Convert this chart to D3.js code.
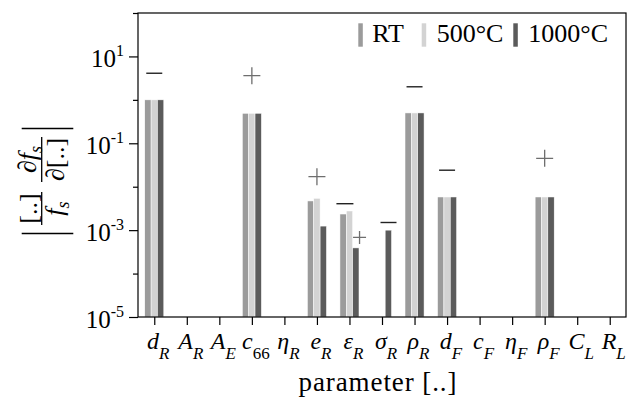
<!DOCTYPE html>
<html>
<head>
<meta charset="utf-8">
<script src="https://cdn.jsdelivr.net/npm/d3@7"></script>
</head>
<body style="margin:0">
<svg id="chart" width="643" height="397"></svg>
<script>
// Parameter names (italic symbol + subscript)
const paramSymbols = ["d", "A", "A", "c", "η", "e", "ε", "σ", "ρ", "d", "c", "η", "ρ", "C", "R"];
const paramSubs    = ["R", "R", "E", "66", "R", "R", "R", "R", "R", "F", "F", "F", "F", "L", "L"];

// Normalised sensitivity |([.]/f_s) ∂f_s/∂[.]| per temperature (0 = not drawn)
const sensRT    = [1.0, 0, 0, 0.49, 0, 4.7e-3, 2.35e-3, 0,      0.50, 5.8e-3, 0, 0, 5.8e-3, 0, 0];
const sens500   = [1.0, 0, 0, 0.49, 0, 5.4e-3, 2.76e-3, 0,      0.50, 5.8e-3, 0, 0, 5.8e-3, 0, 0];
const sens1000  = [1.0, 0, 0, 0.49, 0, 1.24e-3, 3.9e-4, 1.0e-3, 0.50, 5.8e-3, 0, 0, 5.8e-3, 0, 0];

const seriesNames  = ["RT", "500°C", "1000°C"];
const seriesColors = ["#9b9b9b", "#d3d3d3", "#5b5b5b"];

// Sign of each sensitivity: parameter index, x shift (in category units), height, symbol, size
const signIndex  = [0,   3,   5,      6,       6,      7,      8,   9,      12];
const signShift  = [0,   0,   0,      -0.14,   0.31,   0.2,    0,   0,      0];
const signValue  = [4.1, 3.6, 1.7e-2, 4.06e-3, 6.8e-4, 1.5e-3, 2.0, 2.4e-2, 4.5e-2];
const signSymbol = ["-", "+", "+",    "-",     "+",    "-",    "-", "-",    "+"];
const signSize   = [16,  17,  17,     17,      13,     16,     16,  16,     17];

// y-axis decades; labelled ones get long ticks
const majorDecades = [1e1, 1e-1, 1e-3, 1e-5];
const majorExps    = ["1", "-1", "-3", "-5"];
const minorDecades = [1e2, 1e0, 1e-2, 1e-4];

const FONT = "'Liberation Serif'";
const svg = d3.select("#chart");
const L = 138, R = 626, T = 13, B = 317;

const x = d3.scaleLinear().domain([-0.5, paramSymbols.length - 0.5]).range([L, R]);
const y = d3.scaleLog().domain([1e-5, 1e2]).range([B, T]);

const addText = (parent, size) => parent.append("text")
  .style("font-family", FONT).attr("font-size", size);

// Bars
const barUnits = 0.195;
const bw = x(barUnits) - x(0);
[sensRT, sens500, sens1000].forEach((vals, k) => {
  const off = (k - 1) * barUnits;
  svg.append("g")
    .selectAll("rect")
    .data(vals.map((v, i) => ({ v, i })).filter(d => d.v > 0))
    .join("rect")
    .attr("x", d => x(d.i + off) - bw / 2)
    .attr("width", bw)
    .attr("y", d => y(d.v))
    .attr("height", d => y(1e-5) - y(d.v))
    .attr("fill", seriesColors[k])
    .attr("stroke", "#fff")
    .attr("stroke-width", 0.5);
});

// Sign markers
const signs = svg.append("g");
signIndex.forEach((ci, j) => {
  const cx = x(ci + signShift[j]);
  const cy = y(signValue[j]);
  const h = signSize[j] / 2;
  if (signSymbol[j] === "-") {
    signs.append("line")
      .attr("x1", cx - h).attr("x2", cx + h)
      .attr("y1", cy).attr("y2", cy)
      .attr("stroke", "#222").attr("stroke-width", 1.4);
  } else {
    signs.append("path")
      .attr("d", `M${cx - h},${cy}H${cx + h}M${cx},${cy - h}V${cy + h}`)
      .attr("stroke", "#6e6e6e").attr("stroke-width", 1.3).attr("fill", "none");
  }
});

// Axes
const xAxis = svg.append("g")
  .attr("transform", `translate(0,${B})`)
  .call(d3.axisBottom(x).tickValues(d3.range(paramSymbols.length)).tickSize(8).tickFormat(""));
xAxis.select(".domain").remove();
xAxis.selectAll("line").attr("stroke", "#000").attr("stroke-width", 1.2);

const yMajor = svg.append("g")
  .attr("transform", `translate(${L},0)`)
  .call(d3.axisLeft(y).tickValues(majorDecades).tickSize(9).tickFormat(""));
yMajor.select(".domain").remove();
yMajor.selectAll("line").attr("stroke", "#000").attr("stroke-width", 1.2);

const yMinor = svg.append("g")
  .attr("transform", `translate(${L},0)`)
  .call(d3.axisLeft(y).tickValues(minorDecades).tickSize(5).tickFormat(""));
yMinor.select(".domain").remove();
yMinor.selectAll("line").attr("stroke", "#000").attr("stroke-width", 1.2);

// Frame
svg.append("rect")
  .attr("x", L).attr("y", T).attr("width", R - L).attr("height", B - T)
  .attr("fill", "none").attr("stroke", "#000").attr("stroke-width", 1.2);

// y tick labels 10^n
majorDecades.forEach((v, i) => {
  const t = addText(svg, 25)
    .attr("x", 124).attr("y", y(v) + 11)
    .attr("text-anchor", "end");
  t.append("tspan").text("10");
  t.append("tspan").attr("dy", -11.5).attr("font-size", 16).text(majorExps[i]);
});

// x tick labels
paramSymbols.forEach((s, i) => {
  const t = addText(svg, 24)
    .attr("x", x(i) + 4).attr("y", 349)
    .attr("text-anchor", "middle");
  t.append("tspan").attr("font-style", "italic").text(s);
  t.append("tspan").attr("dy", 10).attr("font-size", 17)
    .attr("font-style", /^\d+$/.test(paramSubs[i]) ? "normal" : "italic")
    .text(paramSubs[i]);
});

// x axis title
addText(svg, 27)
  .attr("x", 377.5).attr("y", 391)
  .attr("text-anchor", "middle")
  .attr("textLength", 158).attr("lengthAdjust", "spacing")
  .text("parameter [..]");

// y axis title: | [..]/f_s · ∂f_s/∂[..] |
const yl = svg.append("g").attr("transform", "translate(41.7,181) rotate(-90)");
const stroke = (x1, y1, x2, y2, w) => yl.append("line")
  .attr("x1", x1).attr("y1", y1).attr("x2", x2).attr("y2", y2)
  .attr("stroke", "#000").attr("stroke-width", w);
stroke(-52.5, -20, -52.5, 31.6, 1.5);
stroke(52.5, -20, 52.5, 31.6, 1.5);
stroke(-44, 0, -11, 0, 1.3);
stroke(-1, 0, 44, 0, 1.3);
const frac = (u, v, parts) => {
  const t = addText(yl, 26).attr("x", u).attr("y", v).attr("text-anchor", "middle");
  parts.forEach(p => {
    const s = t.append("tspan").text(p.t);
    if (p.it) s.attr("font-style", "italic");
    if (p.sub) s.attr("font-size", 18).attr("dy", 6);
  });
};
frac(-27.5, -5, [{ t: "[..]" }]);
frac(-27.5, 21, [{ t: "f", it: true }, { t: "s", it: true, sub: true }]);
frac(21.5, -6, [{ t: "∂", it: true }, { t: "f", it: true }, { t: "s", it: true, sub: true }]);
frac(21.5, 22, [{ t: "∂", it: true }, { t: "[..]" }]);

// Legend
const legendPatchX = [358.3, 421.7, 513.3];
const legendTextX  = [372.3, 436.7, 528.3];
seriesNames.forEach((name, k) => {
  svg.append("rect")
    .attr("x", legendPatchX[k]).attr("y", 23.3)
    .attr("width", 4.5).attr("height", 23.4)
    .attr("fill", seriesColors[k]);
  addText(svg, 26)
    .attr("x", legendTextX[k]).attr("y", 42.3)
    .text(name);
});
</script>
</body>
</html>
